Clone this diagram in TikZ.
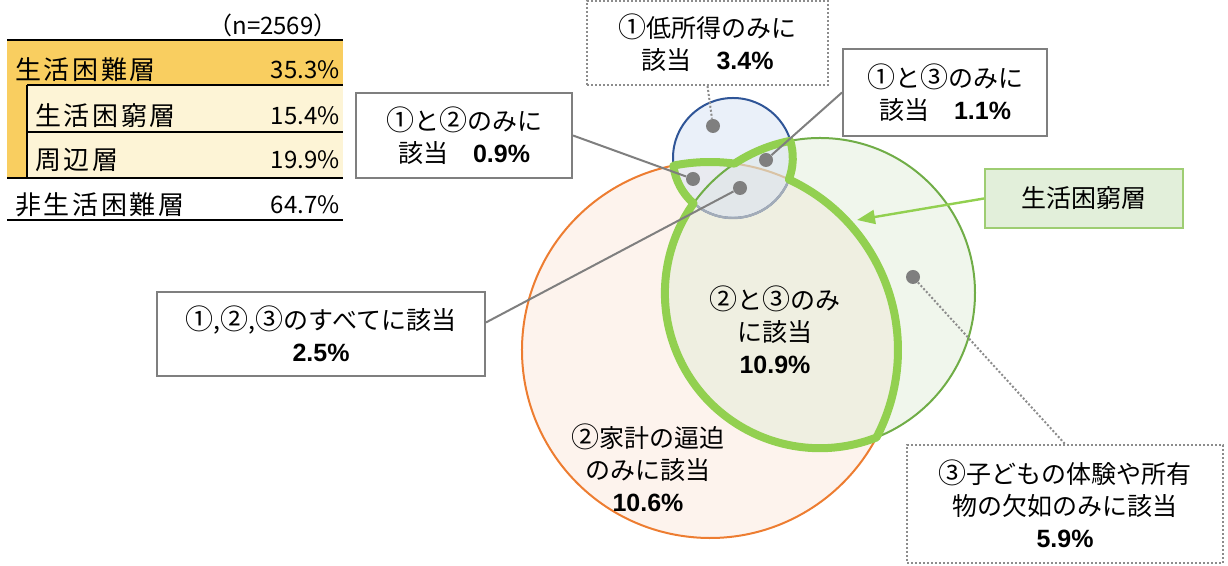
\documentclass[tikz,border=0pt]{standalone}
\usepackage{fontspec}
\setmainfont{Noto Sans CJK JP}
\newfontfamily\numfont{Liberation Sans}
\newfontfamily\tabfont[LetterSpace=10]{Noto Sans CJK JP}
\usetikzlibrary{arrows.meta,calc}

\definecolor{lowblue}{HTML}{2F5597}
\definecolor{lowfill}{HTML}{D6E1F3}
\definecolor{houseorange}{HTML}{ED7D31}
\definecolor{housefill}{HTML}{FBE1D3}
\definecolor{kidgreen}{HTML}{70AD47}
\definecolor{kidfill}{HTML}{DAE9CF}
\definecolor{rimgreen}{HTML}{92D050}
\definecolor{faintarc}{HTML}{D9C3A5}
\definecolor{faintblue}{HTML}{A3ACB8}
\definecolor{boxgray}{HTML}{7F7F7F}
\definecolor{dotgray}{HTML}{8C8C8C}
\definecolor{goldrow}{HTML}{F9CE60}
\definecolor{palerow}{HTML}{FDF4D6}
\definecolor{poorfill}{HTML}{E2EFDA}
\definecolor{poorline}{HTML}{9ECD72}

\NewDocumentCommand{\pct}{m}{{\numfont\bfseries #1\%}}
\NewDocumentCommand{\cn}{m}{{\fontsize{14pt}{16pt}\selectfont #1}}

\tikzset{
    notebox/.style={draw=boxgray, line width=1pt, fill=white, align=center, inner sep=0pt},
    dotbox/.style={notebox, draw=dotgray, dash pattern=on 1pt off 1pt},
    spot/.style={circle, fill=boxgray, inner sep=0pt, minimum size=7pt},
    lead/.style={draw=boxgray, line width=1pt},
    leaddot/.style={draw=dotgray, line width=1pt, dash pattern=on 1pt off 1pt},
    rim/.style={draw=rimgreen, line width=4pt, line join=round},
    tabtext/.style={font=\fontsize{13pt}{16pt}\tabfont, inner sep=0pt},
    tabnum/.style={font=\fontsize{12pt}{16pt}\selectfont, inner sep=0pt, anchor=east},
}

\begin{document}
\begin{tikzpicture}[x=0.5pt, y=0.5pt, font=\fontsize{12.5pt}{16pt}\selectfont]
        \useasboundingbox (0,0) rectangle (1228,566);

        % table
        \fill[goldrow] (7,481) rectangle (343,526);
        \fill[goldrow] (7,388) rectangle (27,481);
        \fill[palerow] (27,388) rectangle (343,481);
        \draw[line width=1.2pt] (7,526) -- (343,526);
        \draw[line width=0.6pt] (27,481) -- (343,481);
        \draw[line width=0.6pt] (27,434) -- (343,434);
        \draw[line width=0.8pt] (27,388) -- (27,481);
        \draw[line width=1.2pt] (7,388) -- (343,388);
        \draw[line width=0.8pt] (7,346) -- (343,346);
        \node[tabnum, font=\fontsize{12pt}{14pt}\selectfont] (nall) at (338,541) {（n=2569）};
        \node[tabtext, anchor=west] (hard) at (15,496) {生活困難層};
        \node[tabnum] (hardv) at (340,496) {35.3\%};
        \node[tabtext, anchor=west] (poorrow) at (35,450) {生活困窮層};
        \node[tabnum] (poorv) at (340,450) {15.4\%};
        \node[tabtext, anchor=west] (edge) at (35,406) {周辺層};
        \node[tabnum] (edgev) at (340,406) {19.9\%};
        \node[tabtext, anchor=west] (easy) at (15,361) {非生活困難層};
        \node[tabnum] (easyv) at (340,361) {64.7\%};

        % circles
        \coordinate (cLow) at (733,408);
        \coordinate (cHouse) at (710,216);
        \coordinate (cKid) at (820,273);
        \fill[housefill, fill opacity=0.4] (cHouse) circle[radius=188];
        \fill[kidfill, fill opacity=0.4] (cKid) circle[radius=155];
        \fill[lowfill, fill opacity=0.5] (cLow) circle[radius=60];
        \draw[houseorange, line width=1pt] ($(cHouse)+(82.5:188)$) arc[start angle=82.5, end angle=425.2, radius=188];
        \draw[faintarc, line width=1pt] ($(cHouse)+(65.2:188)$) arc[start angle=65.2, end angle=82.5, radius=188];
        \draw[kidgreen, line width=1pt] (cKid) circle[radius=155];
        \draw[lowblue, line width=1pt] (cLow) circle[radius=60];
        \begin{scope}
            \clip (cHouse) circle[radius=188];
            \draw[faintblue, line width=1.2pt] (cLow) circle[radius=60];
        \end{scope}

        % at least two
        \draw[rim] ($(cHouse)+(101.2:188)$)
            arc[start angle=101.2, end angle=82.5, radius=188]
            arc[start angle=123.4, end angle=101.0, radius=155]
            arc[start angle=16.65, end angle=-20.9, radius=60]
            arc[start angle=65.2, end angle=-27.7, radius=188]
            arc[start angle=-68.6, end angle=-215.4, radius=155]
            arc[start angle=229.0, end angle=187.3, radius=60] -- cycle;

        \node[align=center] (both23) at (775,236) {\cn{②}と\cn{③}のみ\\に該当\\\pct{10.9}};
        \node[align=center] (only2) at (648,98) {\cn{②}家計の逼迫\\のみに該当\\\pct{10.6}};

        % spots
        \node[spot] (s1) at (713,440) {};
        \node[spot] (s12) at (693,387) {};
        \node[spot] (s13) at (766,406) {};
        \node[spot] (s123) at (740,378) {};
        \node[spot] (s3) at (913,289) {};

        % boxes
        \node[dotbox, minimum width=120.5pt, minimum height=42pt] (low) at (707.5,523) {\cn{①}低所得のみに\\該当\quad\pct{3.4}};
        \node[notebox, minimum width=108pt, minimum height=42.5pt] (box12) at (464,430.5) {\cn{①}と\cn{②}のみに\\該当\quad\pct{0.9}};
        \node[notebox, minimum width=102pt, minimum height=43.5pt] (box13) at (945,473.5) {\cn{①}と\cn{③}のみに\\該当\quad\pct{1.1}};
        \node[notebox, minimum width=164pt, minimum height=42pt] (box123) at (321,232) {\cn{①},\cn{②},\cn{③}のすべてに該当\\\pct{2.5}};
        \node[dotbox, minimum width=158pt, minimum height=59pt] (kid) at (1065,62) {\cn{③}子どもの体験や所有\\物の欠如のみに該当\\\pct{5.9}};
        \node[notebox, draw=poorline, fill=poorfill, minimum width=99pt, minimum height=29.5pt] (poor) at (1084,367.5) {生活困窮層};

        % leads
        \draw[leaddot] (low.south) -- (s1);
        \draw[lead] (box12.east) -- (s12);
        \draw[lead] (box13.west) -- (s13);
        \draw[lead] (box123.4) -- (s123);
        \draw[leaddot] (s3) -- (kid.north);
        \coordinate (tipS) at (857,346);
        \draw[rimgreen, line width=1.2pt, -{Triangle[length=9pt,width=7pt]}] (poor.west) -- (tipS);
\end{tikzpicture}
\end{document}
